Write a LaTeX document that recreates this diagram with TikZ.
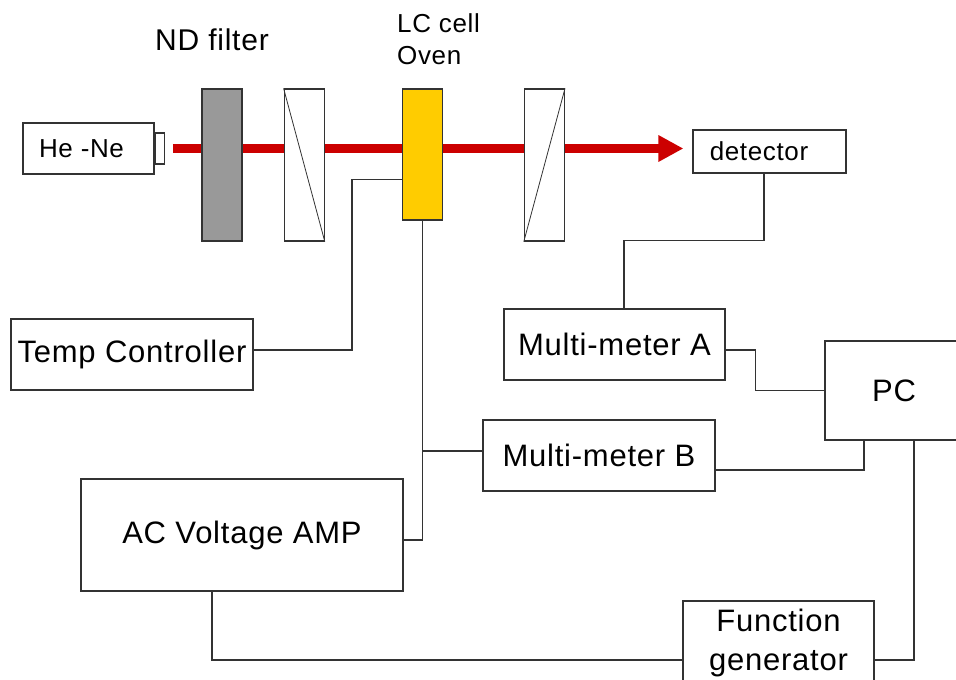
\documentclass[tikz,border=0pt]{standalone}
\usepackage{fontspec}
\setmainfont{Liberation Sans}[LetterSpace=2.5]
\usetikzlibrary{arrows.meta,positioning}
\definecolor{ndgray}{HTML}{999999}
\definecolor{lcyellow}{HTML}{FFCC00}
\definecolor{beamred}{HTML}{CC0000}
\definecolor{edge}{HTML}{333333}

\begin{document}
\begin{tikzpicture}[x=1pt,y=-1pt, every node/.style={inner sep=0pt},
  box/.style={draw=edge,line width=1.2pt,fill=white,font=\fontsize{31}{39}\selectfont},
  optic/.style={draw=edge,line width=1.2pt,fill=white,minimum width=40pt,minimum height=152pt},
  lbl/.style={font=\fontsize{26}{32}\selectfont},
  wire/.style={draw=edge,line width=1.3pt},
  beam/.style={draw=beamred,line width=9pt,-{Triangle[length=25pt,width=25pt]}}]
  \useasboundingbox[fill=white] (0,0) rectangle (956,680);
  % laser and detector
  \node[box,lbl,minimum width=131pt,minimum height=51pt] (hene) at (88.5,148.5) {He -Ne\hspace*{14pt}};
  \node[box,minimum width=9pt,minimum height=31pt,anchor=west] (nub) at (hene.east) {};
  \node[box,lbl,minimum width=153pt,minimum height=43pt] (det) at (769.5,151.5) {detector\hspace*{21pt}};
  \draw[beam,shorten <=8pt,shorten >=9pt] (nub.east) -- (nub.east -| det.west);
  % optics on the beam
  \node[optic,fill=ndgray] (nd) at (222,165) {};
  \node[optic,right=41pt of nd] (pol1) {};
  \node[optic,fill=lcyellow,minimum height=131pt] (lc) at (422.5,154.5) {};
  \node[optic,right=199pt of pol1] (pol2) {};
  \draw[edge,line width=0.8pt] (pol1.north west) -- (pol1.south east);
  \draw[edge,line width=0.8pt] (pol2.south west) -- (pol2.north east);
  \node[lbl,font=\fontsize{30}{36}\selectfont,anchor=base] (ndlbl) at (212,50) {ND filter};
  \node[lbl,align=left,anchor=south west] (lclbl) at (397,65) {LC cell\\Oven};
  % instruments
  \node[box,minimum width=242pt,minimum height=71pt] (temp) at (132,354.5) {Temp Controller};
  \node[box,minimum width=221pt,minimum height=71pt] (mmA) at (614.5,344.5) {Multi-meter A};
  \node[box,minimum width=232pt,minimum height=71pt] (mmB) at (599,455.5) {Multi-meter B};
  \node[box,minimum width=138pt,minimum height=99pt] (pc) at (894,390.5) {PC};
  \node[box,align=center,minimum width=322pt,minimum height=112pt] (amp) at (242,535) {AC Voltage AMP};
  \node[box,align=center,minimum width=191pt,minimum height=83pt] (fg) at (778.5,642.5) {Function\\generator};
  % wiring
  \draw[wire] ([yshift=-25pt]lc.west) -| (352,350) -- ([yshift=4.5pt]temp.east);
  \draw[wire] (lc.south) |- ([yshift=-5pt]amp.east);
  \draw[wire] ([yshift=4.5pt]mmB.west) -- ([yshift=4.5pt]mmB.west -| lc.south);
  \draw[wire] ([xshift=-5.5pt]det.south) -- ++(0,67) -| ([xshift=9.5pt]mmA.north);
  \draw[wire] ([yshift=-5.5pt]mmA.east) -- ++(30,0) |- (pc.west);
  \draw[wire] ([yshift=-14.5pt]mmB.east) -| ([xshift=-30pt]pc.south);
  \draw[wire] ([xshift=20pt]pc.south) |- ([yshift=-17.5pt]fg.east);
  \draw[wire] ([xshift=-30pt]amp.south) |- ([yshift=-17.5pt]fg.west);
\end{tikzpicture}
\end{document}
